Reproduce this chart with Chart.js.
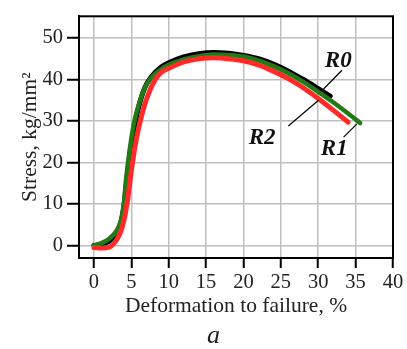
<!DOCTYPE html>
<html>
<head>
<meta charset="utf-8">
<script src="https://cdn.jsdelivr.net/npm/chart.js@4.4.1/dist/chart.umd.min.js"></script>
<style>
  html, body { margin: 0; padding: 0; background: #fff; }
  #wrap { width: 407px; height: 349px; position: relative; }
</style>
</head>
<body>
<div id="wrap"><canvas id="c" width="407" height="349"></canvas></div>
<script>
// ---- data ----
const r0X = [0, 1, 2, 3, 3.6, 4, 4.4, 4.8, 5.4, 6, 6.8, 7.7, 9, 10, 12, 14, 16, 18, 20, 22, 24, 26, 28, 30, 31.6];
const r0Y = [0, 0.3, 1, 2.8, 5.5, 9.5, 16, 22, 28.5, 33.5, 38, 40.7, 43, 44, 45.4, 46.2, 46.5, 46.3, 45.8, 45, 43.7, 42, 40, 37.8, 36];

const r1X = [0, 1, 2, 3, 3.6, 4, 4.3, 4.7, 5.3, 6, 6.8, 7.7, 9, 10, 12, 14, 16, 18, 20, 22, 24, 26, 28, 30, 32, 34, 35.6];
const r1Y = [0, 0.6, 1.6, 3.5, 6, 10, 16, 22, 29, 34, 38, 40.5, 42.5, 43.5, 44.8, 45.6, 46, 45.9, 45.5, 44.6, 43.2, 41.5, 39.4, 37, 34.5, 31.8, 29.5];

const r2X = [0, 1, 2, 2.8, 3.5, 4, 4.5, 5, 5.6, 6.2, 6.8, 7.4, 8.2, 9, 10, 12, 14, 16, 18, 20, 22, 24, 26, 28, 30, 32, 34];
const r2Y = [-0.5, -0.6, -0.4, 0.8, 3, 6, 11, 18, 25, 30, 34, 37, 40, 41.7, 42.7, 44.2, 45, 45.2, 45.0, 44.5, 43.5, 42, 40.2, 38, 35.4, 32.6, 29.7];

const xTicks = [0, 5, 10, 15, 20, 25, 30, 35, 40];
const yTicks = [0, 10, 20, 30, 40, 50];

const seriesNames = ['R0', 'R1', 'R2'];
// label text anchor and leader line (data coordinates)
const labelPos = [[32.68, 44.9], [32.14, 23.7], [22.5, 26.2]];
const leaderFrom = [[33.17, 42.2], [33.39, 26.1], [26.0, 28.8]];
const leaderTo = [[30.71, 37.7], [35.18, 29.3], [30.04, 35.0]];

const xTitle = 'Deformation to failure, %';
const yTitle = 'Stress, kg/mm²';
const panelLetter = 'a';

function pts(xs, ys) { return xs.map((x, i) => ({ x: x, y: ys[i] })); }

const serif = '"Liberation Serif", "Times New Roman", serif';

const framePlugin = {
  id: 'frame',
  afterDatasetsDraw(chart) {
    const { ctx, chartArea: a, scales } = chart;
    ctx.save();
    ctx.strokeStyle = '#000';
    ctx.lineWidth = 2;
    ctx.strokeRect(a.left, a.top, a.right - a.left, a.bottom - a.top);
    // leader lines + labels
    ctx.lineWidth = 1.2;
    for (let i = 0; i < seriesNames.length; i++) {
      ctx.beginPath();
      ctx.moveTo(scales.x.getPixelForValue(leaderFrom[i][0]), scales.y.getPixelForValue(leaderFrom[i][1]));
      ctx.lineTo(scales.x.getPixelForValue(leaderTo[i][0]), scales.y.getPixelForValue(leaderTo[i][1]));
      ctx.stroke();
    }
    ctx.fillStyle = '#111';
    ctx.font = 'italic bold 23px ' + serif;
    ctx.textAlign = 'center';
    ctx.textBaseline = 'alphabetic';
    for (let i = 0; i < seriesNames.length; i++) {
      ctx.fillText(seriesNames[i], scales.x.getPixelForValue(labelPos[i][0]), scales.y.getPixelForValue(labelPos[i][1]) + 7.5);
    }
    // panel letter
    ctx.textBaseline = 'middle';
    ctx.font = 'italic 26px ' + serif;
    ctx.fillStyle = '#222';
    ctx.fillText(panelLetter, scales.x.getPixelForValue(16), chart.height - 13);
    ctx.restore();
  }
};

new Chart(document.getElementById('c'), {
  type: 'line',
  data: {
    datasets: [
      { label: 'R2', data: pts(r2X, r2Y), borderColor: '#ff2b2b', borderWidth: 5, order: 0 },
      { label: 'R1', data: pts(r1X, r1Y), borderColor: '#237a14', borderWidth: 4.5, order: 1 },
      { label: 'R0', data: pts(r0X, r0Y), borderColor: '#000000', borderWidth: 5, order: 2 }
    ]
  },
  options: {
    responsive: false,
    animation: false,
    layout: { padding: { top: 9, right: 14, left: 0, bottom: 0 } },
    elements: {
      point: { radius: 0 },
      line: { cubicInterpolationMode: 'monotone', borderCapStyle: 'round', borderJoinStyle: 'round' }
    },
    plugins: { legend: { display: false }, tooltip: { enabled: false } },
    scales: {
      x: {
        type: 'linear',
        min: -2, max: 40,
        afterBuildTicks(s) { s.ticks = xTicks.map(v => ({ value: v })); },
        afterFit(s) { s.height = 91; },
        grid: { color: '#bfbfbf', lineWidth: 1.5, tickLength: 10, tickColor: '#000', tickWidth: 2 },
        border: { color: '#000', width: 2 },
        ticks: { color: '#222', font: { family: serif, size: 20.5 }, padding: 2, maxRotation: 0, autoSkip: false },
        title: { display: true, text: xTitle, color: '#222', font: { family: serif, size: 21.5 }, padding: { top: 30, bottom: 30 } }
      },
      y: {
        type: 'linear',
        min: -3, max: 55.2,
        afterBuildTicks(s) { s.ticks = yTicks.map(v => ({ value: v })); },
        afterFit(s) { s.width = 79; },
        grid: { color: '#bfbfbf', lineWidth: 1.5, tickLength: 12, tickColor: '#000', tickWidth: 2 },
        border: { color: '#000', width: 2 },
        ticks: { color: '#222', font: { family: serif, size: 20.5 }, padding: 4, autoSkip: false },
        title: { display: true, text: yTitle, color: '#222', font: { family: serif, size: 21.5 }, padding: { top: 17, bottom: 17 } }
      }
    }
  },
  plugins: [framePlugin]
});
</script>
</body>
</html>
